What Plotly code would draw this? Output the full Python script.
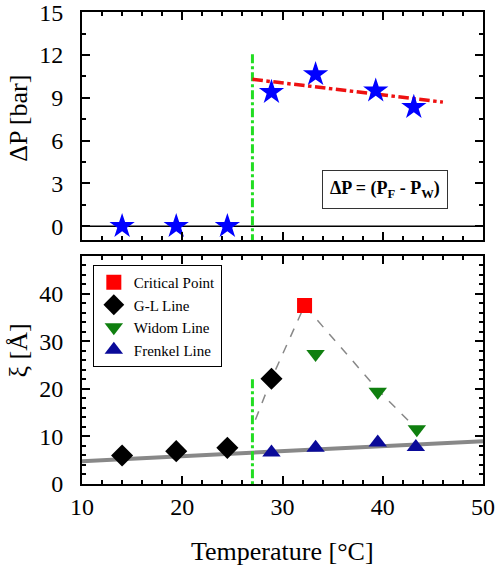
import plotly.graph_objects as go
from plotly.subplots import make_subplots

# ---- data (top panel) ----
dp_T = [14.0, 19.4, 24.5, 28.9, 33.3, 39.3, 43.1]
dp_val = [0.0, 0.0, 0.0, 9.4, 10.65, 9.5, 8.35]
fit_T = [27.0, 46.0]
fit_dp = [10.3, 8.7]
zero_T = [10, 50]
zero_val = [0, 0]
crit_T = 27.0
vline_top = [12.05, -1]

# ---- data (bottom panel) ----
cp_T = [32.2]
cp_xi = [37.5]
gl_T = [14.0, 19.4, 24.5, 28.9]
gl_xi = [6.0, 6.9, 7.6, 22.1]
widom_T = [33.3, 39.5, 43.4]
widom_xi = [27.3, 19.4, 11.5]
frenkel_T = [28.9, 33.3, 39.5, 43.3]
frenkel_xi = [6.6, 7.6, 8.7, 7.8]
guide_T = [27.3, 28.9, 32.2, 39.5, 43.4]
guide_xi = [13.5, 22.1, 37.5, 19.8, 11.5]
trend_T = [10, 50]
trend_xi = [4.8, 9.0]
vline_bot = [22.0, 0]

FONT = "Liberation Serif"

fig = make_subplots(rows=2, cols=1, vertical_spacing=0.032, row_heights=[0.5, 0.5])

# top panel
fig.add_trace(go.Scatter(x=zero_T, y=zero_val, mode="lines",
                         line=dict(color="black", width=1.5), showlegend=False), 1, 1)
fig.add_trace(go.Scatter(x=[crit_T, crit_T], y=vline_top, mode="lines",
                         line=dict(color="#22dd22", width=3, dash="dashdot"), showlegend=False), 1, 1)
fig.add_trace(go.Scatter(x=fit_T, y=fit_dp, mode="lines",
                         line=dict(color="#ee1111", width=3.5, dash="dashdot"), showlegend=False), 1, 1)
fig.add_trace(go.Scatter(x=dp_T, y=dp_val, mode="markers",
                         marker=dict(symbol="star", size=19, color="#0000ff"), showlegend=False), 1, 1)

# bottom panel
fig.add_trace(go.Scatter(x=trend_T, y=trend_xi, mode="lines",
                         line=dict(color="#888888", width=4), showlegend=False), 2, 1)
fig.add_trace(go.Scatter(x=[crit_T, crit_T], y=vline_bot, mode="lines",
                         line=dict(color="#22dd22", width=3, dash="dashdot"), showlegend=False), 2, 1)
fig.add_trace(go.Scatter(x=guide_T, y=guide_xi, mode="lines",
                         line=dict(color="#888888", width=1.5, dash="dash"), showlegend=False), 2, 1)
fig.add_trace(go.Scatter(x=cp_T, y=cp_xi, mode="markers", name="Critical Point",
                         marker=dict(symbol="square", size=15, color="#ff0000")), 2, 1)
fig.add_trace(go.Scatter(x=gl_T, y=gl_xi, mode="markers", name="G-L Line",
                         marker=dict(symbol="diamond", size=17, color="black")), 2, 1)
fig.add_trace(go.Scatter(x=widom_T, y=widom_xi, mode="markers", name="Widom Line",
                         marker=dict(symbol="triangle-down", size=16, color="#0f7f0f")), 2, 1)
fig.add_trace(go.Scatter(x=frenkel_T, y=frenkel_xi, mode="markers", name="Frenkel Line",
                         marker=dict(symbol="triangle-up", size=16, color="#0a0a99")), 2, 1)

MINOR = dict(ticks="inside", ticklen=4, tickcolor="black", tickwidth=1.5)

def ax(**kw):
    d = dict(showline=True, linecolor="black", linewidth=2, mirror="ticks",
             ticks="inside", ticklen=8, tickwidth=2, tickcolor="black",
             showgrid=False, zeroline=False, automargin=False, layer="above traces",
             tickfont=dict(family=FONT, size=24, color="black"))
    d.update(kw)
    return d

fig.update_xaxes(range=[10, 50], row=1, col=1,
                 **ax(dtick=10, minor=dict(dtick=2, **MINOR), showticklabels=False))
fig.update_xaxes(range=[10, 50], row=2, col=1,
                 **ax(dtick=10, minor=dict(dtick=2, **MINOR)))
fig.update_yaxes(range=[-1, 15.02], row=1, col=1,
                 **ax(dtick=3, minor=dict(dtick=1.5, **MINOR),
                      ticksuffix="\u00a0\u00a0", ticklabeloverflow="allow"))
fig.update_yaxes(range=[0, 48], row=2, col=1,
                 **ax(dtick=10, minor=dict(dtick=2, **MINOR),
                      ticksuffix="\u00a0\u00a0", ticklabeloverflow="allow"))

# axis titles as paper annotations
TF = dict(family=FONT, size=26, color="black")
fig.add_annotation(x=0.5, y=-0.144, xref="paper", yref="paper", text="Temperature [°C]",
                   showarrow=False, font=TF, xanchor="center", yanchor="middle")
fig.add_annotation(x=-0.158, y=0.775, xref="paper", yref="paper", text="ΔP [bar]",
                   showarrow=False, font=TF, textangle=-90, xanchor="center", yanchor="middle")
fig.add_annotation(x=-0.158, y=0.282, xref="paper", yref="paper", text="ξ [Å]",
                   showarrow=False, font=TF, textangle=-90, xanchor="center", yanchor="middle")

fig.add_annotation(x=40.25, y=2.6, xref="x", yref="y",
                   text="<b>ΔP = (P<sub>F</sub> - P<sub>W</sub>)</b>",
                   showarrow=False, font=dict(family=FONT, size=18, color="black"),
                   bordercolor="#333333", borderwidth=1, borderpad=7, bgcolor="white")

fig.update_layout(
    width=498, height=568,
    margin=dict(l=82, r=15, t=12, b=84),
    paper_bgcolor="white", plot_bgcolor="white",
    font=dict(family=FONT, color="black"),
    legend=dict(x=0.027, y=0.464, xanchor="left", yanchor="top",
                bordercolor="black", borderwidth=1, bgcolor="white",
                font=dict(family=FONT, size=15, color="black"),
                tracegroupgap=0),
)

fig.write_html("out.html")
